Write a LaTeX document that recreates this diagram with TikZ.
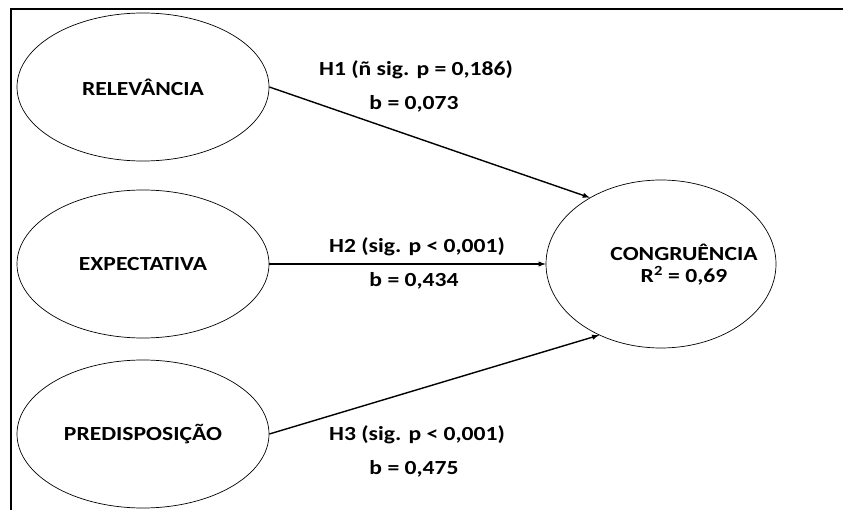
\documentclass[tikz,border=0pt]{standalone}
\usepackage{fontspec}
\setmainfont{Carlito}[FakeStretch=1.18]
\usetikzlibrary{arrows,shapes,positioning}

\begin{document}
\begin{tikzpicture}[x=1pt,y=-1pt,
  var/.style={draw, ellipse, line width=.7pt, minimum width=252pt, minimum height=148pt, inner sep=0pt},
  txt/.style={font=\fontsize{20}{18}\selectfont\bfseries, inner sep=0pt, align=center},
  hyp/.style={->, >=latex, line width=1.4pt}]
\useasboundingbox (0,0) rectangle (843,510);

% moldura
\draw[line width=1.5pt] (11,510) -- (11,9) -- (843,9);

% construtos
\node[var, txt] (rel) at (143,87) {RELEVÂNCIA};
\node[var, txt] (exp) at (143,264) {EXPECTATIVA};
\node[var, txt] (pre) at (143,434) {PREDISPOSIÇÃO};
\node[var, minimum width=230pt, minimum height=168pt] (con) at (661,264) {};
\node[txt, font=\fontsize{20}{22}\selectfont\bfseries] (contxt) at (684,265) {CONGRUÊNCIA\\R\textsuperscript{2} = 0,69};

% hipoteses
\draw[hyp] (rel.east) -- (con.137);
\draw[hyp] (exp.east) -- (con.west);
\draw[hyp] (pre.east) -- (con.229);

% coeficientes
\node[txt] (h1) at (416,70) {H1 (ñ sig. p = 0,186)};
\node[txt] (b1) at (414,104) {b = 0,073};
\node[txt] (h2) at (417,247) {H2 (sig. p < 0,001)};
\node[txt] (b2) at (414,281) {b = 0,434};
\node[txt] (h3) at (417,435) {H3 (sig. p < 0,001)};
\node[txt] (b3) at (414,469) {b = 0,475};

\end{tikzpicture}
\end{document}
